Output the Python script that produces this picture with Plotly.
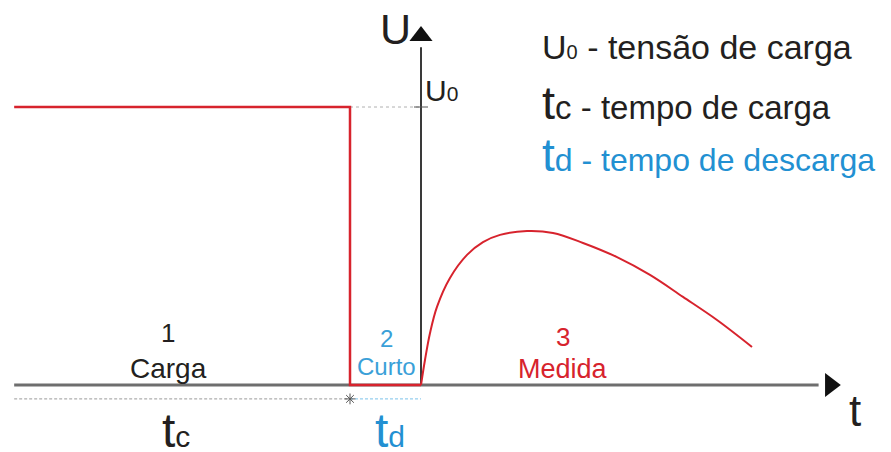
import plotly.graph_objects as go

# time axis in units of the discharge time td (t=0 at the U axis), voltage in units of U0
charge_t = [-5.73, -1.0, -1.0, 0.0]
charge_U = [1.0, 1.0, 0.0, 0.0]

measure_t = [0.0, 0.056, 0.127, 0.225, 0.408, 0.648, 0.873, 1.113, 1.493, 1.859,
             2.282, 2.761, 3.225, 3.690, 4.169, 4.662]
measure_U = [0.0, 0.090, 0.187, 0.281, 0.385, 0.468, 0.514, 0.540, 0.554, 0.547,
             0.511, 0.460, 0.396, 0.317, 0.234, 0.137]

t_start, t_switch, t_zero = -5.73, -1.0, 0.0
U0 = 1.0
x_axis_end, y_axis_end = 5.60, 1.215
marker_level = -0.05

RED = "#d7232d"
BLUE = "#2290d2"
LIGHT_BLUE = "#3aa0d8"
BLACK = "#231f20"
FONT = "Liberation Sans, Arial, sans-serif"

fig = go.Figure()

# axes drawn as lines
fig.add_trace(go.Scatter(x=[t_start, x_axis_end], y=[0, 0], mode="lines",
                         line=dict(color="#6e6e6e", width=3), hoverinfo="skip"))
fig.add_trace(go.Scatter(x=[t_zero, t_zero], y=[0, y_axis_end], mode="lines",
                         line=dict(color="#3a3a3a", width=2), hoverinfo="skip"))
# arrow heads
fig.add_trace(go.Scatter(x=[5.765], y=[0], mode="markers",
                         marker=dict(symbol="triangle-right", size=21, color="#111"),
                         hoverinfo="skip"))
fig.add_trace(go.Scatter(x=[t_zero], y=[1.255], mode="markers",
                         marker=dict(symbol="triangle-up", size=20, color="#111"),
                         hoverinfo="skip"))

# guide lines
fig.add_trace(go.Scatter(x=[t_switch, t_zero], y=[U0, U0], mode="lines",
                         line=dict(color="#b0b0b0", width=1, dash="dot"), hoverinfo="skip"))
fig.add_trace(go.Scatter(x=[t_zero], y=[U0], mode="markers",
                         marker=dict(symbol="line-ew-open", size=10, color="#555",
                                     line=dict(color="#555", width=1)), hoverinfo="skip"))
fig.add_trace(go.Scatter(x=[t_start, t_switch], y=[marker_level, marker_level], mode="lines",
                         line=dict(color="#9a9a9a", width=1, dash="3px,2px"), hoverinfo="skip"))
fig.add_trace(go.Scatter(x=[t_switch, t_zero], y=[marker_level, marker_level], mode="lines",
                         line=dict(color="#7cc3ea", width=1, dash="3px,2px"), hoverinfo="skip"))
fig.add_trace(go.Scatter(x=[t_switch], y=[marker_level], mode="markers",
                         marker=dict(symbol="asterisk-open", size=9, color="#555",
                                     line=dict(color="#555", width=1)), hoverinfo="skip"))

# voltage
fig.add_trace(go.Scatter(x=charge_t, y=charge_U, mode="lines",
                         line=dict(color=RED, width=2.5), hoverinfo="skip"))
fig.add_trace(go.Scatter(x=measure_t, y=measure_U, mode="lines",
                         line=dict(color=RED, width=2, shape="spline"), hoverinfo="skip"))

def ann(x, y, text, size, color=BLACK, xanchor="center"):
    fig.add_annotation(x=x, y=y, xref="x", yref="y", text=text, showarrow=False,
                       xanchor=xanchor, yanchor="middle",
                       font=dict(family=FONT, size=size, color=color))

ann(-0.366, 1.28, "U", 43)
ann(0.03, 1.058, "U<span style='font-size:21px'>0</span>", 30, xanchor="left")
ann(6.11, -0.09, "t", 44)

ann(1.67, 1.216, "U<span style='font-size:20px'>0</span> - tensão de carga", 34, xanchor="left")
ann(1.67, 1.018, "<span style='font-size:47px'>t</span>c - tempo de carga", 33, xanchor="left")
ann(1.67, 0.826, "<span style='font-size:46px'>t</span>d - tempo de descarga", 32,
    color=BLUE, xanchor="left")

ann(-3.563, 0.187, "1", 26)
ann(-3.563, 0.061, "Carga", 28)
ann(-0.479, 0.169, "2", 24, color=LIGHT_BLUE)
ann(-0.479, 0.065, "Curto", 24, color=LIGHT_BLUE)
ann(2.0, 0.173, "3", 26, color=RED)
ann(2.0, 0.058, "Medida", 27, color=RED)

ann(-3.45, -0.165, "<span style='font-size:48px'>t</span>c", 30)
ann(-0.437, -0.165, "<span style='font-size:48px'>t</span>d", 30, color=BLUE)

# the page places the figure 8px from the top-left corner
W, H, OFF = 891, 452, 8
fig.update_layout(
    width=W - OFF, height=H - OFF,
    margin=dict(l=0, r=0, t=0, b=0),
    paper_bgcolor="white", plot_bgcolor="white",
    showlegend=False,
    xaxis=dict(range=[(OFF - 421) / 71, (W - 421) / 71], visible=False, fixedrange=True),
    yaxis=dict(range=[(385 - H) / 278, (385 - OFF) / 278], visible=False, fixedrange=True),
)

fig.write_html("out.html")
